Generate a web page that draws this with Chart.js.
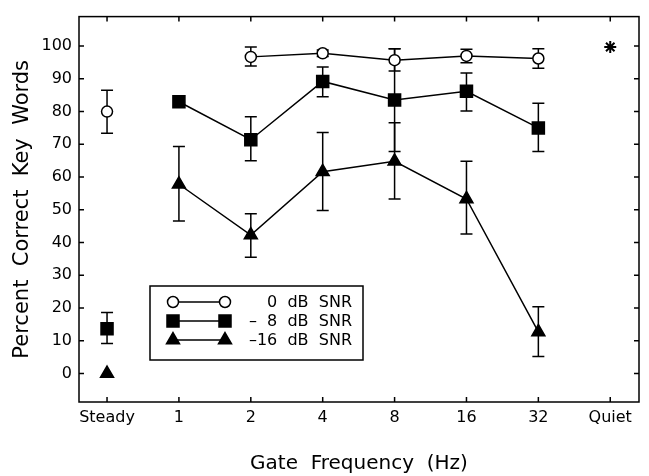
<!DOCTYPE html>
<html>
<head>
<meta charset="utf-8">
<title>Percent correct key words by gate frequency</title>
<script src="https://cdn.jsdelivr.net/npm/chart.js@4.4.0/dist/chart.umd.min.js"></script>
<style>
  html, body { margin: 0; padding: 0; background: #fff; }
  #wrap { width: 649px; height: 476px; position: relative; }
</style>
</head>
<body>
<div id="wrap"><canvas id="gateChart"></canvas></div>
<script>
// Conditions along the x axis
const categories = ['Steady', '1', '2', '4', '8', '16', '32', 'Quiet'];
const yTicks = [0, 10, 20, 30, 40, 50, 60, 70, 80, 90, 100];

// 0 dB SNR
const snr0 = [80, null, 96.7, 97.8, 95.7, 97.0, 96.2, null];
const snr0Low = [73.4, null, 93.9, 96.8, 92.4, 94.9, 93.2, null];
const snr0High = [86.5, null, 99.7, 98.8, 99.2, 99.0, 99.2, null];

// -8 dB SNR
const snr8 = [13.7, 83.0, 71.4, 89.2, 83.5, 86.2, 75.0, null];
const snr8Low = [9.2, 81.8, 65.0, 84.5, 67.8, 80.2, 67.8, null];
const snr8High = [18.6, 84.2, 78.4, 93.6, 99.2, 91.8, 82.5, null];

// -16 dB SNR
const snr16 = [0, 57.8, 42.3, 61.6, 64.8, 53.3, 12.7, null];
const snr16Low = [null, 46.6, 35.5, 49.8, 53.3, 42.6, 5.2, null];
const snr16High = [null, 69.3, 48.8, 73.6, 76.6, 64.8, 20.4, null];

// quiet condition
const quiet = [null, null, null, null, null, null, null, 99.7];

const FONT = 'DejaVu Sans';

function toPoints(values) {
    return values.map((v, i) => ({ x: i, y: v }));
}

// steady-state point is not joined to the gated points
const skipSteady = {
    borderColor: ctx => ctx.p0DataIndex === 0 ? 'rgba(0,0,0,0)' : '#000'
};

const errorBars = {
    id: 'errorBars',
    beforeDatasetsDraw(chart) {
        const ctx = chart.ctx;
        const xs = chart.scales.x, ys = chart.scales.y;
        ctx.save();
        ctx.strokeStyle = '#000';
        ctx.lineWidth = 1.5;
        chart.data.datasets.forEach(ds => {
            if (!ds.errLow) return;
            ds.errLow.forEach((lo, i) => {
                const hi = ds.errHigh[i];
                if (lo === null || hi === null) return;
                const px = xs.getPixelForValue(i);
                const pLo = ys.getPixelForValue(lo);
                const pHi = ys.getPixelForValue(hi);
                ctx.beginPath();
                ctx.moveTo(px, pLo); ctx.lineTo(px, pHi);
                ctx.moveTo(px - 6, pLo); ctx.lineTo(px + 6, pLo);
                ctx.moveTo(px - 6, pHi); ctx.lineTo(px + 6, pHi);
                ctx.stroke();
            });
        });
        ctx.restore();
    }
};

// box round the plot with inward tick marks on all four sides
const frame = {
    id: 'frame',
    afterDraw(chart) {
        const ctx = chart.ctx;
        const a = chart.chartArea;
        const xs = chart.scales.x, ys = chart.scales.y;
        ctx.save();
        ctx.strokeStyle = '#000';
        ctx.lineWidth = 1.5;
        ctx.strokeRect(a.left, a.top, a.right - a.left, a.bottom - a.top);
        ctx.beginPath();
        xs.ticks.forEach(t => {
            const px = xs.getPixelForValue(t.value);
            ctx.moveTo(px, a.bottom); ctx.lineTo(px, a.bottom - 5);
            ctx.moveTo(px, a.top); ctx.lineTo(px, a.top + 5);
        });
        ys.ticks.forEach(t => {
            const py = ys.getPixelForValue(t.value);
            ctx.moveTo(a.left, py); ctx.lineTo(a.left + 5, py);
            ctx.moveTo(a.right, py); ctx.lineTo(a.right - 5, py);
        });
        ctx.stroke();
        ctx.restore();
    }
};

// legend box inside the plot: marker, line, marker, label
const boxLegend = {
    id: 'boxLegend',
    afterDraw(chart) {
        const ctx = chart.ctx;
        const items = chart.data.datasets.filter(ds => ds.inLegend);
        const left = 150, top = 286, width = 213, height = 74;
        ctx.save();
        ctx.fillStyle = '#fff';
        ctx.fillRect(left, top, width, height);
        ctx.strokeStyle = '#000';
        ctx.lineWidth = 1.5;
        ctx.strokeRect(left, top, width, height);
        ctx.font = '16px "' + FONT + '"';
        ctx.textBaseline = 'middle';
        ctx.textAlign = 'right';
        items.forEach((ds, i) => {
            const y = top + 16 + i * 19;
            const x1 = 173, x2 = 225;
            ctx.beginPath();
            ctx.moveTo(x1, y); ctx.lineTo(x2, y);
            ctx.stroke();
            [x1, x2].forEach(x => {
                ctx.fillStyle = ds.pointBackgroundColor;
                Chart.helpers.drawPoint(ctx, {
                    pointStyle: ds.pointStyle,
                    radius: ds.pointRadius,
                    rotation: 0,
                    borderWidth: 1.5
                }, x, y);
            });
            ctx.fillStyle = '#000';
            ctx.fillText(ds.label, 352, y + 1);
        });
        ctx.restore();
    }
};

function makeSeries(label, values, lo, hi, style, radius, fill) {
    return {
        label: label,
        data: toPoints(values),
        errLow: lo,
        errHigh: hi,
        inLegend: true,
        borderColor: '#000',
        borderWidth: 1.5,
        pointStyle: style,
        pointRadius: radius,
        pointBorderWidth: 1.5,
        pointBorderColor: '#000',
        pointBackgroundColor: fill,
        spanGaps: false,
        segment: skipSteady
    };
}

const datasets = [
    makeSeries('0  dB  SNR', snr0, snr0Low, snr0High, 'circle', 5.5, '#fff'),
    makeSeries('\u2013  8  dB  SNR', snr8, snr8Low, snr8High, 'rect', 8.5, '#000'),
    makeSeries('\u201316  dB  SNR', snr16, snr16Low, snr16High, 'triangle', 7.5, '#000'),
    {
        label: 'Quiet',
        data: toPoints(quiet),
        showLine: false,
        pointStyle: 'star',
        pointRadius: 6,
        pointBorderWidth: 2,
        pointBorderColor: '#000',
        pointBackgroundColor: '#000'
    }
];

new Chart(document.getElementById('gateChart'), {
    type: 'line',
    data: { datasets: datasets },
    options: {
        responsive: true,
        maintainAspectRatio: false,
        animation: false,
        layout: { padding: { top: 9, right: 6, left: 0, bottom: 0 } },
        plugins: {
            legend: { display: false },
            tooltip: { enabled: false }
        },
        scales: {
            x: {
                type: 'linear',
                min: -0.39,
                max: 7.4,
                grid: { display: false, drawTicks: false },
                border: { display: false },
                afterBuildTicks: s => { s.ticks = categories.map((c, i) => ({ value: i })); },
                afterFit: s => { s.height = 74; },
                ticks: {
                    color: '#000',
                    padding: 6,
                    maxRotation: 0,
                    autoSkip: false,
                    font: { family: FONT, size: 16 },
                    callback: v => categories[v]
                },
                title: {
                    display: true,
                    text: 'Gate  Frequency  (Hz)',
                    color: '#000',
                    font: { family: FONT, size: 20 },
                    padding: { top: 0, bottom: 0 }
                }
            },
            y: {
                min: -8.7,
                max: 109,
                grid: { display: false, drawTicks: false },
                border: { display: false },
                afterBuildTicks: s => { s.ticks = yTicks.map(v => ({ value: v })); },
                afterFit: s => { s.width = 79; },
                ticks: {
                    color: '#000',
                    padding: 7,
                    font: { family: FONT, size: 16 }
                },
                title: {
                    display: true,
                    text: 'Percent  Correct  Key  Words',
                    color: '#000',
                    font: { family: FONT, size: 21 },
                    padding: { top: 10, bottom: 0 }
                }
            }
        }
    },
    plugins: [errorBars, frame, boxLegend]
});
</script>
</body>
</html>
